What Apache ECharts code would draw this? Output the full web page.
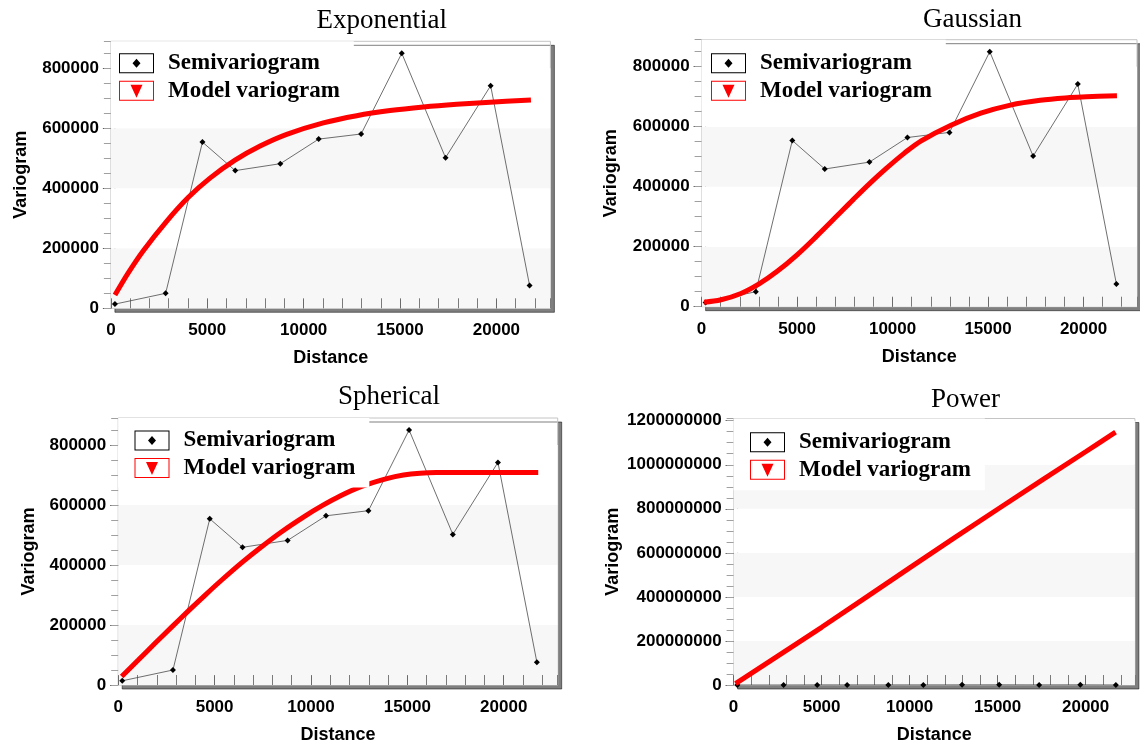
<!DOCTYPE html>
<html>
<head>
<meta charset="utf-8">
<script src="https://cdn.jsdelivr.net/npm/echarts@6/dist/echarts.min.js"></script>
<style>
html,body{margin:0;padding:0;background:#fff;}
#c{width:1140px;height:745px;}
</style>
</head>
<body>
<div id="c"></div>
<script>
// ---------- data ----------
const panelTitles = ['Exponential', 'Gaussian', 'Spherical', 'Power'];
const seriesNames = ['Semivariogram', 'Model variogram'];

// experimental semivariogram (same in every panel)
const lagDistance  = [210, 2840, 4750, 6450, 8790, 10780, 12980, 15090, 17360, 19700, 21720];
const semivariance = [14000, 50000, 554000, 459000, 482000, 564000, 581000, 850000, 502000, 742000, 76000];

// fitted models
const expModelX = [210, 900, 1680, 2890, 4020, 5140, 6440, 7740, 9120, 11020, 12750, 14480, 16210, 17940, 19670, 21790];
const expModelY = [44000, 118000, 192000, 290000, 370000, 434000, 494000, 541000, 580000, 618000, 642000, 659000, 671000, 680000, 687000, 694000];

const gauModelX = [130, 1020, 2060, 3010, 3960, 5000, 6040, 7080, 7940, 8810, 9670, 10620, 11500, 13060, 14620, 16170, 17730, 19280, 20150, 21750];
const gauModelY = [15000, 23000, 44000, 76000, 118000, 173000, 236000, 302000, 357000, 411000, 461000, 512000, 553000, 605000, 645000, 672000, 688000, 697000, 700000, 703000];

const sphModelX = [180, 1040, 1910, 2770, 3640, 4500, 5370, 6410, 7440, 8480, 9690, 10560, 11510, 12630, 13930, 14800, 15660, 16500, 18500, 20500, 21790];
const sphModelY = [28000, 83000, 139000, 193000, 247000, 299000, 350000, 408000, 461000, 511000, 563000, 597000, 630000, 662000, 688000, 700000, 706000, 708000, 708000, 708000, 708000];

const powModelX = [110, 5000, 10000, 15000, 20000, 21700];
const powModelY = [6000000, 262000000, 532000000, 798000000, 1059000000, 1148000000];

// tick labels
const xTickLabels = [0, 5000, 10000, 15000, 20000];
const yTickLabels = [0, 200000, 400000, 600000, 800000];
const yTickLabelsPower = [0, 200000000, 400000000, 600000000, 800000000, 1000000000, 1200000000];

// ---------- layout ----------
const modelXs = [expModelX, gauModelX, sphModelX, powModelX];
const modelYs = [expModelY, gauModelY, sphModelY, powModelY];
const yLabelSets = [yTickLabels, yTickLabels, yTickLabels, yTickLabelsPower];

const layouts = [
  {left:110.9, top:41.3, width:439.5, height:267, xMax:22800, yMax:890000, yStep:200000, yMinor:50000,
   titleX:381.8, titleY:7.5, nameGapY:81, legPad:[10.4, 14, 8, 8.1]},
  {left:701.6, top:39.7, width:439.5, height:267, xMax:22800, yMax:890000, yStep:200000, yMinor:50000,
   titleX:972.4, titleY:6.2, nameGapY:82, legPad:[12, 14, 8, 9.4]},
  {left:118.2, top:418, width:439.5, height:267, xMax:22800, yMax:890000, yStep:200000, yMinor:50000,
   titleX:389, titleY:383.5, nameGapY:80, legPad:[11, 14, 8, 16.3]},
  {left:733.6, top:418.5, width:401.3, height:269.5, xMax:22800, yMax:1210000000, yStep:200000000, yMinor:50000000,
   titleX:965.6, titleY:386, nameGapY:112, legPad:[12.2, 14, 9, 16.4]}
];

const iconSemi  = 'path://M0,0H35V20H0Z M1,1V19H34V1Z M17.5,5.5L21.5,10L17.5,14.5L13.5,10Z';
const iconModel = 'path://M0,0H35V20H0Z M1,1V19H34V1Z M11.5,4H23.5L17.5,17Z';

const isIn = (arr, v) => arr.some(t => Math.abs(t - v) < 1e-3);

const labelFont = {fontFamily:'Liberation Sans', fontWeight:'bold', fontSize:17, color:'#000'};
const nameFont  = {fontFamily:'Liberation Sans', fontWeight:'bold', fontSize:18, color:'#000'};

const option = {
  backgroundColor:'#fff',
  animation:false,
  title:[], legend:[], grid:[], xAxis:[], yAxis:[], series:[]
};

layouts.forEach((L, p) => {
  option.grid.push({
    left:L.left, top:L.top, width:L.width, height:L.height,
    show:true, backgroundColor:'#fff', borderColor:'#c4c4c4', borderWidth:1,
    shadowColor:'rgba(0,0,0,0.5)', shadowOffsetX:4, shadowOffsetY:4, shadowBlur:0
  });
  option.title.push({
    text:panelTitles[p], left:L.titleX, top:L.titleY, textAlign:'center', padding:0,
    textStyle:{fontFamily:'Liberation Serif', fontWeight:'normal', fontSize:27, color:'#000'}
  });
  const yl = yLabelSets[p];
  // main x axis
  option.xAxis.push({
    gridIndex:p, type:'value', min:0, max:L.xMax, interval:1000,
    name:'Distance', nameLocation:'middle', nameGap:41, nameTextStyle:nameFont,
    axisLine:{show:false},
    axisTick:{show:true, inside:true, length:10, lineStyle:{color:'#7a7a7a', width:1}},
    splitLine:{show:false},
    axisLabel:Object.assign({margin:14, formatter:v => isIn(xTickLabels, v) ? String(v) : ''}, labelFont)
  });
  // outside major ticks
  option.xAxis.push({
    gridIndex:p, type:'value', min:0, max:L.xMax, interval:5000,
    axisLine:{show:false},
    axisTick:{show:true, inside:false, length:9, customValues:xTickLabels, lineStyle:{color:'#6a6a6a', width:1}},
    axisLabel:{show:false}, splitLine:{show:false}
  });
  // main y axis
  option.yAxis.push({
    gridIndex:p, type:'value', min:0, max:L.yMax, interval:L.yStep,
    name:'Variogram', nameLocation:'middle', nameGap:L.nameGapY, nameTextStyle:nameFont,
    axisLine:{show:false},
    axisTick:{show:true, inside:false, length:8, customValues:yl, lineStyle:{color:'#555', width:1}},
    splitLine:{show:false},
    splitArea:{show:true, areaStyle:{color:['#f7f7f7', '#ffffff']}},
    axisLabel:Object.assign({margin:12, formatter:v => isIn(yl, v) ? String(v) : ''}, labelFont)
  });
  // inside minor ticks
  option.yAxis.push({
    gridIndex:p, type:'value', min:0, max:L.yMax, interval:L.yMinor,
    axisLine:{show:false},
    axisTick:{show:true, inside:true, length:7, lineStyle:{color:'#a0a0a0', width:1}},
    axisLabel:{show:false}, splitLine:{show:false}, splitArea:{show:false}
  });

  option.series.push({
    name:seriesNames[0], type:'line', xAxisIndex:2*p, yAxisIndex:2*p,
    data:lagDistance.map((x, i) => [x, semivariance[i]]),
    symbol:'diamond', symbolSize:6, showSymbol:true,
    itemStyle:{color:'#000'}, lineStyle:{color:'#4a4a4a', width:0.8},
    z:3, silent:true
  });
  option.series.push({
    name:seriesNames[1], type:'line', xAxisIndex:2*p, yAxisIndex:2*p,
    data:modelXs[p].map((x, i) => [x, modelYs[p][i]]),
    smooth:0.35, symbol:'none',
    itemStyle:{color:'#ff0000'}, lineStyle:{color:'#ff0000', width:5},
    z:4, silent:true
  });

  option.legend.push({
    orient:'vertical', left:L.left, top:L.top, padding:L.legPad,
    backgroundColor:'#fff', itemWidth:35, itemHeight:20, itemGap:4.6,
    selectedMode:false, z:10,
    itemStyle:{borderWidth:0},
    textStyle:{fontFamily:'Liberation Serif', fontWeight:'bold', fontSize:23, color:'#000', lineHeight:20, padding:[0,0,0,9]},
    data:[
      {name:seriesNames[0], icon:iconSemi, itemStyle:{color:'#000', borderWidth:0}},
      {name:seriesNames[1], icon:iconModel, itemStyle:{color:'#ff0000', borderWidth:0}}
    ]
  });
});

const chart = echarts.init(document.getElementById('c'), null, {renderer:'canvas'});
chart.setOption(option);
</script>
</body>
</html>
